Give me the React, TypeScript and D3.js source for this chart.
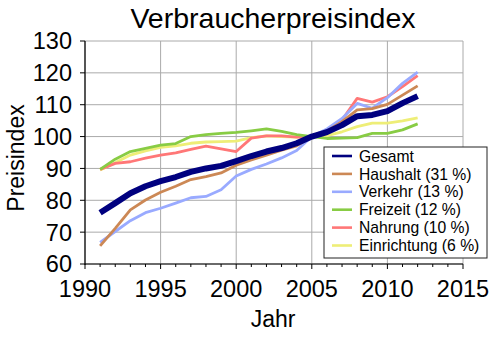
import React from "react";
import * as d3 from "d3";

const years = [1991,1992,1993,1994,1995,1996,1997,1998,1999,2000,2001,2002,2003,2004,2005,2006,2007,2008,2009,2010,2011,2012];

const gesamt = [76.1,79.1,82.2,84.4,86.0,87.3,88.9,90.0,90.8,92.3,93.9,95.3,96.4,97.9,100,101.4,103.6,106.4,106.8,108.0,110.5,112.7];
const haushalt = [65.7,71.2,77.0,80.1,82.5,84.4,86.5,87.4,88.6,91.0,92.7,94.2,95.7,97.1,100,101.8,104.7,108.4,108.8,110.1,113.0,115.9];
const verkehr = [66.8,70.2,73.6,76.1,77.5,79.1,80.8,81.2,83.3,87.6,89.7,91.4,93.3,95.6,100,102.4,105.7,110.4,108.9,112.2,116.7,120.2];
const freizeit = [89.7,92.9,95.3,96.3,97.3,97.8,100.0,100.6,101.0,101.3,101.8,102.4,101.6,100.6,100,99.4,99.5,99.7,101.0,101.0,102.1,104.0];
const nahrung = [89.7,91.6,92.1,93.2,94.2,94.9,96.0,97.0,96.1,95.3,99.5,100.2,100.2,99.8,100,102.1,105.2,112.0,110.8,112.5,115.7,119.1];
const einrichtung = [89.5,91.8,94.2,95.5,96.6,97.1,97.9,98.3,98.4,98.6,99.7,100.2,100.0,99.8,100,100.3,101.5,103.1,104.2,104.2,104.9,105.9];

const seriesNames = ["Gesamt","Haushalt (31 %)","Verkehr (13 %)","Freizeit (12 %)","Nahrung (10 %)","Einrichtung (6 %)"];
const seriesValues = [gesamt, haushalt, verkehr, freizeit, nahrung, einrichtung];
const seriesColors = ["#00007f","#cc8855","#99aaff","#88cc44","#ff7777","#eeee77"];
const seriesWidths = [6, 2.8, 2.8, 2.8, 2.8, 2.8];

const xTicks = [1990,1995,2000,2005,2010,2015];
const yTicks = [60,70,80,90,100,110,120,130];

const FONT = "'Liberation Sans', Arial, Helvetica, sans-serif";

export default function App() {
  const W = 500, H = 340;
  const left = 85, right = 463, top = 41, bottom = 264;
  const x = d3.scaleLinear().domain([1990, 2015]).range([left, right]);
  const y = d3.scaleLinear().domain([60, 130]).range([bottom, top]);
  const minorYears = d3.range(1990, 2016);

  const lineGen = (vals: number[]) =>
    d3.line<number>().x((_, i) => x(years[i])).y((v) => y(v)).curve(d3.curveLinear)(vals) || "";

  const order = [5, 4, 3, 2, 1, 0];

  const lg = { x: 324, y: 147, w: 163, h: 111 };

  return (
    <svg width={W} height={H} style={{ position: "absolute", left: 0, top: 0 }} fontFamily={FONT}>
      <rect width={W} height={H} fill="#fff" />
      {/* grid */}
      {yTicks.map((t) => (
        <line key={"gy" + t} x1={left} x2={right} y1={y(t)} y2={y(t)} stroke="#aaaaaa" strokeWidth={1} />
      ))}
      {xTicks.map((t) => (
        <line key={"gx" + t} x1={x(t)} x2={x(t)} y1={top} y2={bottom} stroke="#aaaaaa" strokeWidth={1} />
      ))}
      {/* series */}
      {order.map((i) => (
        <path key={seriesNames[i]} d={lineGen(seriesValues[i])} fill="none" stroke={seriesColors[i]}
          strokeWidth={seriesWidths[i]} strokeLinejoin="round" strokeLinecap="butt" />
      ))}
      {/* axes */}
      <line x1={left} x2={left} y1={top} y2={bottom + 1} stroke="#000" strokeWidth={1.2} />
      <line x1={left} x2={right} y1={bottom} y2={bottom} stroke="#000" strokeWidth={1.2} />
      {yTicks.map((t) => (
        <g key={"yt" + t}>
          <line x1={left - 5} x2={left} y1={y(t)} y2={y(t)} stroke="#000" strokeWidth={1} />
          <text x={72} y={y(t)} dy="0.36em" textAnchor="end" fontSize={23.5}>{t}</text>
        </g>
      ))}
      {minorYears.map((t) => (
        <line key={"xm" + t} x1={x(t)} x2={x(t)} y1={bottom} y2={bottom + (t % 5 === 0 ? 5 : 3)} stroke="#000" strokeWidth={1} />
      ))}
      {xTicks.map((t) => (
        <text key={"xt" + t} x={x(t)} y={297} textAnchor="middle" fontSize={23.5}>{t}</text>
      ))}
      <text x={273} y={327} textAnchor="middle" fontSize={23}>Jahr</text>
      <text transform={`translate(24,158) rotate(-90)`} textAnchor="middle" fontSize={23}>Preisindex</text>
      <text x={273} y={28} textAnchor="middle" fontSize={28.5}>Verbraucherpreisindex</text>
      {/* legend */}
      <rect x={lg.x} y={lg.y} width={lg.w} height={lg.h} fill="#fff" stroke="#222" strokeWidth={1} />
      {seriesNames.map((n, i) => {
        const cy = 156 + i * 17.9;
        return (
          <g key={"lg" + n}>
            <line x1={332} x2={352} y1={cy} y2={cy} stroke={seriesColors[i]} strokeWidth={2.6} />
            <text x={359} y={cy} dy="0.36em" fontSize={15.7}>{n}</text>
          </g>
        );
      })}
    </svg>
  );
}
